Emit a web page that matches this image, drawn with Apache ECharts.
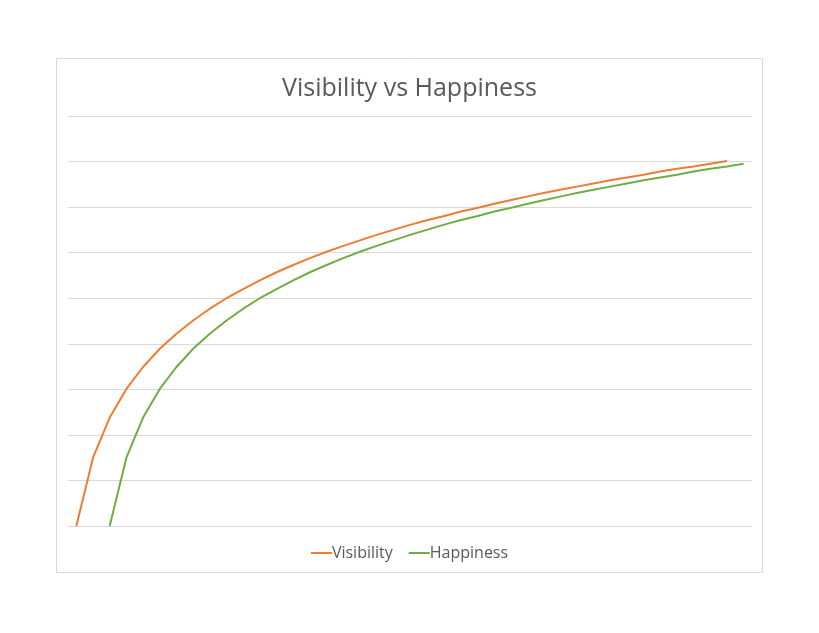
<!DOCTYPE html>
<html>
<head>
<meta charset="utf-8">
<script src="https://cdn.jsdelivr.net/npm/echarts@6/dist/echarts.min.js"></script>
<style>
  html, body { margin: 0; padding: 0; background: #fff; }
  #chart { width: 819px; height: 633px; }
</style>
</head>
<body>
<div id="chart"></div>
<script>
// values, in gridline units (bottom line = 0)
const categories = ['1','2','3','4','5','6','7','8','9','10','11','12','13','14','15','16','17','18','19','20',
  '21','22','23','24','25','26','27','28','29','30','31','32','33','34','35','36','37','38','39','40','41'];
const visibility = [0, 1.50, 2.38, 3.01, 3.49, 3.89, 4.22, 4.51, 4.77, 5.00, 5.20, 5.39, 5.57, 5.73, 5.88,
  6.02, 6.15, 6.27, 6.39, 6.50, 6.61, 6.71, 6.80, 6.90, 6.98, 7.07, 7.15, 7.23, 7.31, 7.38,
  7.45, 7.52, 7.59, 7.65, 7.71, 7.78, 7.84, 7.89, 7.95, 8.01];
const happiness = ['-', '-', 0, 1.50, 2.38, 3.01, 3.49, 3.89, 4.22, 4.51, 4.77, 5.00, 5.20, 5.39, 5.57, 5.73, 5.88,
  6.02, 6.15, 6.27, 6.39, 6.50, 6.61, 6.71, 6.80, 6.90, 6.98, 7.07, 7.15, 7.23, 7.31, 7.38,
  7.45, 7.52, 7.59, 7.65, 7.71, 7.78, 7.84, 7.89, 7.95];

const textFont = 'Open Sans';

let myChart = echarts.init(document.getElementById('chart'), null, { renderer: 'canvas' });

let option = {
  backgroundColor: '#fff',
  animation: false,
  graphic: [{
    type: 'rect',
    shape: { x: 56.5, y: 58.5, width: 706, height: 514 },
    style: { fill: 'none', stroke: '#d9d9d9', lineWidth: 1 },
    z: -1
  }],
  title: {
    text: 'Visibility vs Happiness',
    left: 'center',
    top: 71,
    textStyle: { fontFamily: textFont, fontSize: 25, fontWeight: 'normal', color: '#595959' }
  },
  legend: {
    bottom: 67,
    left: 'center',
    itemWidth: 21,
    itemHeight: 2,
    itemGap: 16,
    icon: 'rect',
    textStyle: { fontFamily: textFont, fontSize: 16, color: '#595959', padding: [0, 0, 0, -5] },
    data: ['Visibility', 'Happiness']
  },
  grid: { left: 68, right: 67, top: 116, bottom: 107 },
  xAxis: {
    type: 'category',
    data: categories,
    boundaryGap: true,
    axisLine: { show: false },
    axisTick: { show: false },
    axisLabel: { show: false }
  },
  yAxis: {
    type: 'value',
    min: 0,
    max: 9,
    interval: 1,
    axisLine: { show: false },
    axisTick: { show: false },
    axisLabel: { show: false },
    splitLine: { lineStyle: { color: '#d9d9d9', width: 1 } }
  },
  series: [
    {
      name: 'Visibility',
      type: 'line',
      data: visibility,
      showSymbol: false,
      symbol: 'none',
      itemStyle: { color: '#ED7D31' },
      lineStyle: { color: '#ED7D31', width: 2 }
    },
    {
      name: 'Happiness',
      type: 'line',
      data: happiness,
      showSymbol: false,
      symbol: 'none',
      itemStyle: { color: '#70AD47' },
      lineStyle: { color: '#70AD47', width: 2 }
    }
  ]
};

myChart && myChart.setOption(option);
</script>
</body>
</html>
